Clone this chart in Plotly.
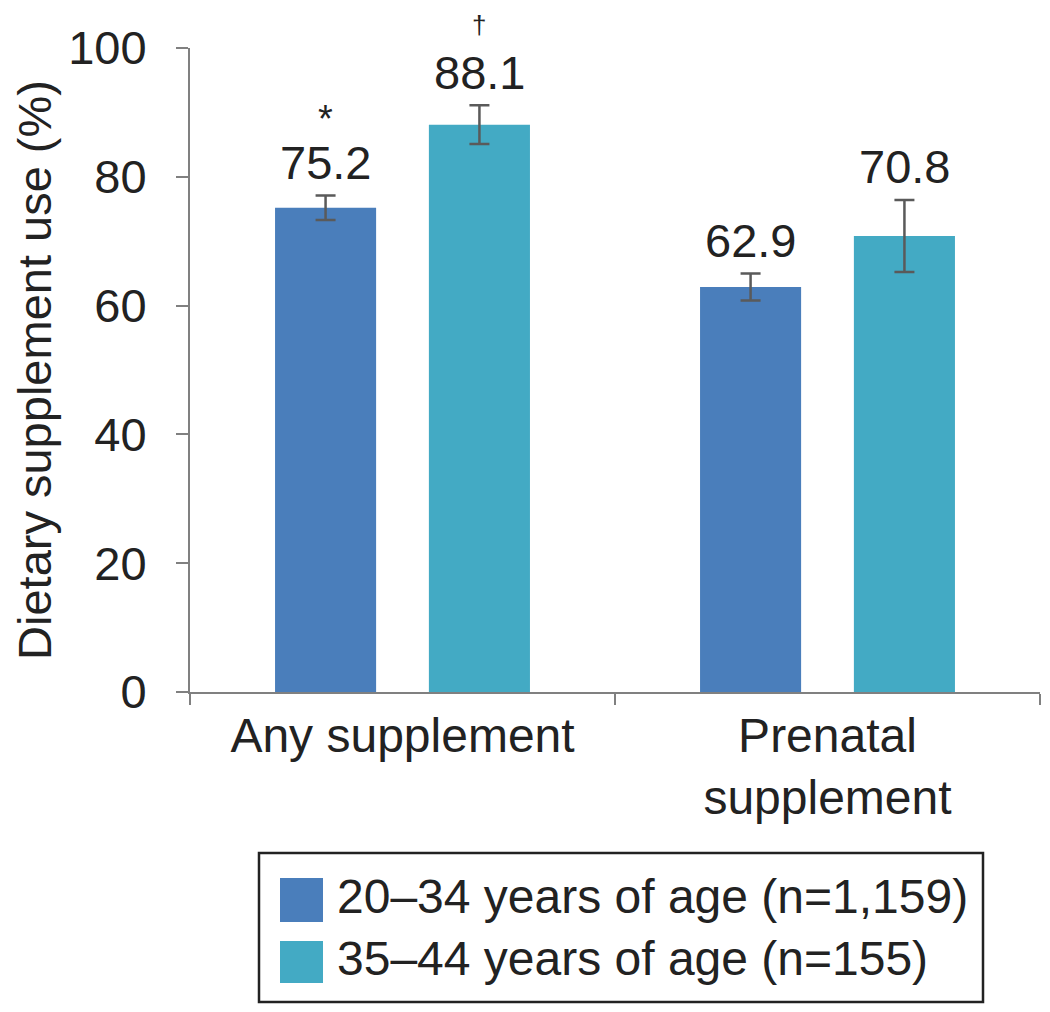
import plotly.graph_objects as go

# ---- data ----
categories = ["Any supplement", "Prenatal<br>supplement"]
series_names = ["20–34 years of age (n=1,159)", "35–44 years of age (n=155)"]
values_20_34 = [75.2, 62.9]
values_35_44 = [88.1, 70.8]
err_20_34 = [1.9, 2.1]
err_35_44 = [3.0, 5.6]
marks_20_34 = ["*", ""]
marks_35_44 = ["†", ""]
y_ticks = [0, 20, 40, 60, 80, 100]
y_title = "Dietary supplement use (%)"

colors = ["#4A7EBB", "#43AAC4"]
FONT = "Liberation Sans, Arial, sans-serif"
TXT = "#222222"
AX = "#808080"

OFF = 8  # page body margin
W, H = 1050 - OFF, 1012 - OFF
ML, MR, MT, MB = 190 - OFF, 10, 48 - OFF, 320
PW = W - ML - MR
PH = H - MT - MB


def px2x(px):  # page pixel -> paper x
    return (px - OFF - ML) / PW


def px2y(py):  # page pixel -> paper y
    return (H - MB - (py - OFF)) / PH


fig = go.Figure()
all_vals = [values_20_34, values_35_44]
all_errs = [err_20_34, err_35_44]
all_marks = [marks_20_34, marks_35_44]
for i in range(2):
    fig.add_trace(go.Bar(
        x=categories, y=all_vals[i], name=series_names[i],
        marker=dict(color=colors[i], line=dict(width=0)),
        error_y=dict(type="data", array=all_errs[i], visible=True,
                     color="#5a5a5a", thickness=2.5, width=10),
        showlegend=False,
    ))

annotations = []
for i in range(2):
    off = -0.181 if i == 0 else 0.181
    for j, cat in enumerate(categories):
        top = all_vals[i][j] + all_errs[i][j]
        annotations.append(dict(
            x=j + off, y=top, xref="x", yref="y", text=f"{all_vals[i][j]:.1f}",
            showarrow=False, yanchor="middle", yshift=33,
            font=dict(family=FONT, size=47, color=TXT)))
        m = all_marks[i][j]
        if m:
            big = m == "*"
            annotations.append(dict(
                x=j + off, y=top, xref="x", yref="y", text=m,
                showarrow=False, yanchor="middle", yshift=76 if big else 80,
                font=dict(family=FONT, size=38 if big else 26, color=TXT)))

# legend (drawn manually to match large square swatches)
shapes = [dict(type="rect", xref="paper", yref="paper",
               x0=px2x(259), x1=px2x(983), y0=px2y(1002), y1=px2y(853),
               line=dict(color="#222222", width=2.5), fillcolor="white")]
rows = [(878, 922, 896), (941, 983, 958)]
for i, (t, b, c) in enumerate(rows):
    shapes.append(dict(type="rect", xref="paper", yref="paper",
                       x0=px2x(280), x1=px2x(323), y0=px2y(b), y1=px2y(t),
                       line=dict(width=0), fillcolor=colors[i]))
    annotations.append(dict(x=px2x(335), y=px2y(c), xref="paper", yref="paper",
                            text=series_names[i], showarrow=False,
                            xanchor="left", yanchor="middle",
                            font=dict(family=FONT, size=48, color=TXT)))

fig.update_layout(
    width=W, height=H,
    margin=dict(l=ML, r=MR, t=MT, b=MB, autoexpand=False),
    paper_bgcolor="white", plot_bgcolor="white",
    barmode="group", bargap=0.276, bargroupgap=0.343,
    font=dict(family=FONT, size=47, color=TXT),
    annotations=annotations, shapes=shapes,
    showlegend=False,
)
fig.update_xaxes(
    type="category", showline=True, linecolor=AX, linewidth=2,
    ticks="outside", tickson="boundaries", ticklen=11, tickcolor=AX, tickwidth=2,
    showgrid=False, zeroline=False, ticklabelstandoff=0, automargin=False,
    tickfont=dict(family=FONT, size=48, color=TXT),
)
fig.update_yaxes(
    range=[0, 100], tickvals=y_ticks, showline=True, linecolor=AX, linewidth=2,
    ticks="outside", ticklen=12, tickcolor=AX, tickwidth=2,
    showgrid=False, zeroline=False, ticklabelstandoff=20, automargin=False,
    tickfont=dict(family=FONT, size=47, color=TXT),
    title=dict(text=y_title, standoff=22, font=dict(family=FONT, size=47, color=TXT)),
)

fig.write_html("out.html")
